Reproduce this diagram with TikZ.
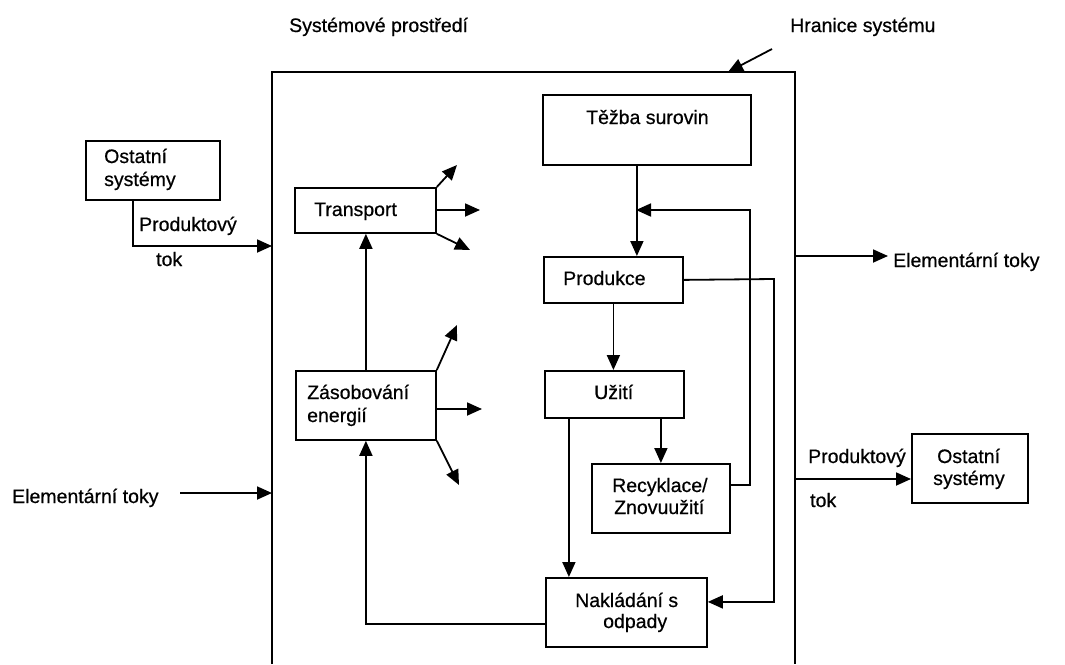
\documentclass[tikz,border=0pt]{standalone}
\usepackage{fontspec}
\setmainfont{Liberation Sans}[FakeBold=0.6]
\usetikzlibrary{arrows.meta}
\begin{document}
\begin{tikzpicture}[x=1pt,y=-1pt,
  every node/.style={font=\fontsize{19.5}{23}\selectfont},
  box/.style={draw, line width=1.8pt, inner sep=0pt, anchor=north west},
  txt/.style={inner sep=0pt, anchor=base west},
  ln/.style={line width=1.8pt},
  arr/.style={line width=1.8pt, -{Triangle[length=15pt,width=13pt]}}]
\useasboundingbox (0,0) rectangle (1065,664);

% boxes
\node[box, minimum width=134pt, minimum height=59pt] (ostL) at (85,140) {};
\node[box, minimum width=141pt, minimum height=45pt] (trans) at (294,187) {};
\node[box, minimum width=140pt, minimum height=69pt] (zas) at (295,370) {};
\node[box, minimum width=208pt, minimum height=70pt] (tez) at (542,94) {};
\node[box, minimum width=139pt, minimum height=46pt] (prod) at (543,256) {};
\node[box, minimum width=139pt, minimum height=47pt] (uz) at (544,370) {};
\node[box, minimum width=138pt, minimum height=69pt] (rec) at (591,463) {};
\node[box, minimum width=161pt, minimum height=69pt] (nak) at (545,577) {};
\node[box, minimum width=116pt, minimum height=69pt] (ostR) at (911,433) {};

% texts
\node[txt] (tSys) at (289,32) {Systémové prostředí};
\node[txt] (tHr) at (790,32) {Hranice systému};
\node[txt] (tOst1) at (104,163) {Ostatní};
\node[txt] (tOst2) at (104,186) {systémy};
\node[txt] (tPL1) at (139,231) {Produktový};
\node[txt] (tPL2) at (156,266) {tok};
\node[txt] (tTr) at (314,216) {Transport};
\node[txt] (tZa1) at (307,399) {Zásobování};
\node[txt] (tZa2) at (307,422) {energií};
\node[txt] (tElL) at (12,503) {Elementární toky};
\node[txt] (tTe) at (586,124) {Těžba surovin};
\node[txt] (tPr) at (563,285) {Produkce};
\node[txt] (tElR) at (893,267) {Elementární toky};
\node[txt] (tUz) at (594,399) {Užití};
\node[txt] (tRe1) at (612,492) {Recyklace/};
\node[txt] (tRe2) at (614,514) {Znovuužití};
\node[txt] (tNa1) at (575,607) {Nakládání s};
\node[txt] (tNa2) at (603,628) {odpady};
\node[txt] (tPR1) at (808,463) {Produktový};
\node[txt] (tPR2) at (810,507) {tok};
\node[txt] (tOR1) at (937,463) {Ostatní};
\node[txt] (tOR2) at (933,485) {systémy};

% system boundary
\coordinate (bTL) at (272,72);
\coordinate (bTR) at (795,72);
\coordinate (bBL) at (272,664);
\coordinate (bBR) at (795,664);
\draw[ln] (bBL) -- (bTL) -- (bTR) -- (bBR);

% outer connectors
\coordinate (inP) at (272,246);
\draw[arr] ([xshift=-20pt]ostL.south) |- (inP);
\coordinate (inE0) at (180,493);
\coordinate (inE) at (272,493);
\draw[arr] (inE0) -- (inE);
\coordinate (outE0) at (795,256);
\coordinate (outE) at (888,256);
\draw[arr] (outE0) -- (outE);
\coordinate (outP) at (795,479);
\draw[arr] (outP) -- (outP -| ostR.west);
\coordinate (hr0) at (772,49);
\coordinate (hr1) at (728,72);
\draw[arr] (hr0) -- (hr1);

% transport outputs
\coordinate (t1) at (457,165);
\coordinate (t2) at (480,210);
\coordinate (t3) at (470,250);
\draw[arr] (trans.north east) -- (t1);
\draw[arr] (trans.east |- t2) -- (t2);
\draw[arr] (trans.south east) -- (t3);

% energy outputs
\coordinate (z1) at (457,325);
\coordinate (z2) at (482,409);
\coordinate (z3) at (459,485);
\draw[arr] (zas.north east) -- (z1);
\draw[arr] (zas.east |- z2) -- (z2);
\draw[arr] (zas.south east) -- (z3);

% internal flows
\draw[arr] (zas.north) -- (zas.north |- trans.south);
\draw[arr] ([yshift=-11.5pt]nak.west) -| (zas.south);
\draw[arr] ([xshift=-10pt]tez.south) -- ([xshift=-10pt]tez.south |- prod.north);
\coordinate (rj) at (636,210);
\coordinate (rc1) at (750,210);
\draw[arr] ([yshift=13.5pt]rec.east) -| (rc1) -- (rj);
\coordinate (pn) at (774,279);
\draw[arr] (prod.east) -- (pn) |- ([yshift=10.5pt]nak.east);
\draw[arr] (prod.south) -- (prod.south |- uz.north);
\draw[arr] (rec.north |- uz.south) -- (rec.north);
\draw[arr] ([xshift=-45.5pt]uz.south) -- ([xshift=-45.5pt]uz.south |- nak.north);
\end{tikzpicture}
\end{document}
